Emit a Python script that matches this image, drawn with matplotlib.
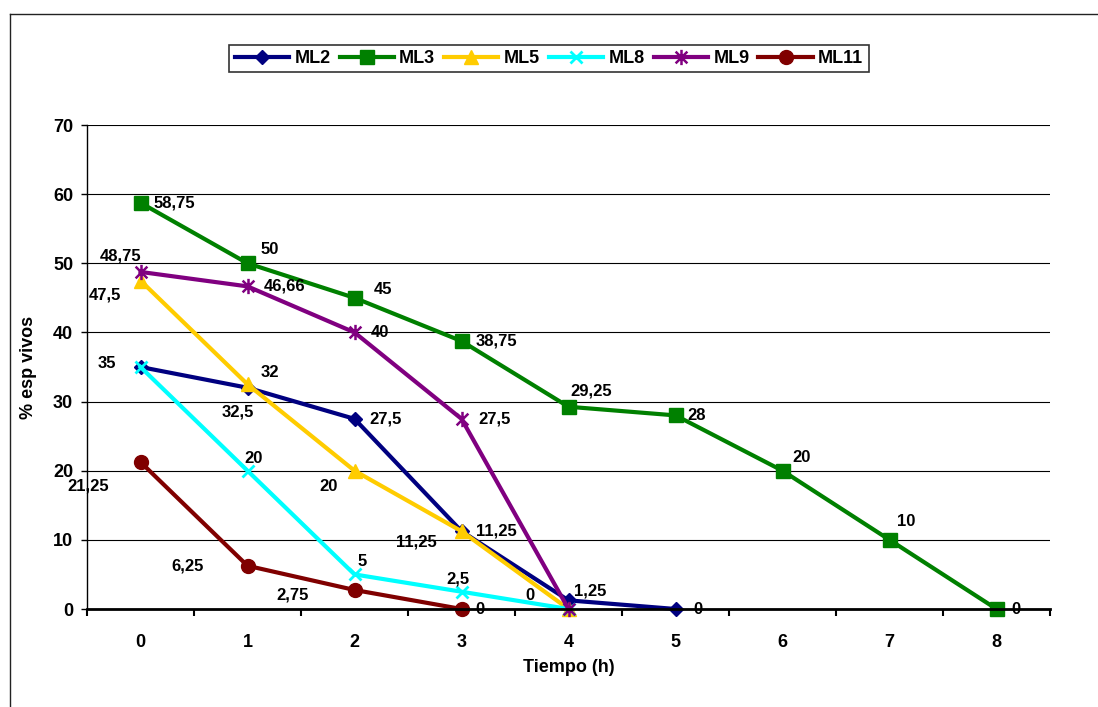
import matplotlib
matplotlib.use("Agg")
from matplotlib import pyplot as plt
from matplotlib.lines import Line2D
from matplotlib.path import Path

plt.rcParams['font.family'] = ['Liberation Sans', 'DejaVu Sans']
plt.rcParams['font.weight'] = 'bold'

# data
hours = [0, 1, 2, 3, 4, 5, 6, 7, 8]
ml2 = [35, 32, 27.5, 11.25, 1.25, 0]
ml3 = [58.75, 50, 45, 38.75, 29.25, 28, 20, 10, 0]
ml5 = [47.5, 32.5, 20, 11.25, 0]
ml8 = [35, 20, 5, 2.5, 0]
ml9 = [48.75, 46.66, 40, 27.5, 0]
ml11 = [21.25, 6.25, 2.75, 0]
names = ["ML2", "ML3", "ML5", "ML8", "ML9", "ML11"]

# asterisk marker like the excel one (x with a vertical bar)
star = Path([(-1, -1), (1, 1), (-1, 1), (1, -1), (0, -1.3), (0, 1.3)],
            [Path.MOVETO, Path.LINETO, Path.MOVETO, Path.LINETO, Path.MOVETO, Path.LINETO])

styles = [
    dict(color="#000080", marker="D", ms=7),
    dict(color="#008000", marker="s", ms=10),
    dict(color="#FFCC00", marker="^", ms=10),
    dict(color="#00FFFF", marker="x", ms=9, mew=2),
    dict(color="#800080", marker=star, ms=11, mew=1.8),
    dict(color="#800000", marker="o", ms=10),
]

# label offsets in pixels (None = label hidden behind another)
offsets = [
    [(-34, 4), (22, 15), (31, 0), (35, 0), (22, 9), (22, 0)],
    [(34, 0), (22, 14), (29, 8), (35, 0), (23, 16), (21, 0), (19, 13), (17, 18), (19, 0)],
    [(-36, -14), (-10, -28), (-26, -16), (-45, -11), None],
    [None, (6, 12), (8, 13), (-4, 13), (-39, 13)],
    [(-20, 16), (37, 0), (25, 0), (33, 0), None],
    [(-52, -24), (-60, 0), (-62, -5), (18, 0)],
]

series = [ml2, ml3, ml5, ml8, ml9, ml11]

fig = plt.figure(figsize=(10.98, 7.07), dpi=100)
ax = fig.add_axes([87 / 1098, 1 - 609 / 707, (1050 - 87) / 1098, (609 - 125) / 707])

for name, vals, st, offs in zip(names, series, styles, offsets):
    xs = hours[:len(vals)]
    ax.plot(xs, vals, lw=3, label=name, clip_on=False, **st)
    for x, v, off in zip(xs, vals, offs):
        if off is None:
            continue
        ax.annotate(("%g" % v).replace(".", ","), (x, v), xytext=off,
                    textcoords="offset pixels", ha="center", va="center",
                    fontsize=12, fontweight="bold")

ax.set_xlim(-0.5, 8.5)
ax.set_ylim(0, 70)
ax.set_yticks(range(0, 71, 10))
ax.set_xticks(hours)
ax.set_xticks([h - 0.5 for h in hours] + [8.5], minor=True)
ax.tick_params(axis="x", which="major", length=0, pad=18, labelsize=13)
ax.tick_params(axis="x", which="minor", length=5, width=1.5, direction="out")
ax.tick_params(axis="y", length=4, width=1, pad=6, labelsize=13)
ax.grid(axis="y", color="black", lw=0.8)
ax.set_axisbelow(True)
ax.spines["top"].set_visible(False)
ax.spines["right"].set_visible(False)
ax.spines["bottom"].set_linewidth(2)
ax.spines["left"].set_linewidth(1)

ax.set_xlabel("Tiempo (h)", fontsize=13, fontweight="bold")
ax.set_ylabel("% esp vivos", fontsize=13, fontweight="bold")
ax.xaxis.set_label_coords(0.5, -0.103)
ax.yaxis.set_label_coords(-0.052, 0.5)

leg = fig.legend(loc="center", bbox_to_anchor=(549 / 1098, 1 - 58.5 / 707), ncol=6,
                 fontsize=13, frameon=True, fancybox=False, edgecolor="black",
                 handlelength=3.0, handletextpad=0.3, columnspacing=0.5,
                 borderpad=0.3)
leg.get_frame().set_linewidth(1.2)

# outer chart frame (only left and top visible in the crop)
fig.add_artist(Line2D([10 / 1098, 10 / 1098], [0, 1 - 14 / 707], color="#222222", lw=1))
fig.add_artist(Line2D([10 / 1098, 1], [1 - 14 / 707, 1 - 14 / 707], color="#222222", lw=1))

fig.savefig("out.png", dpi=100)
